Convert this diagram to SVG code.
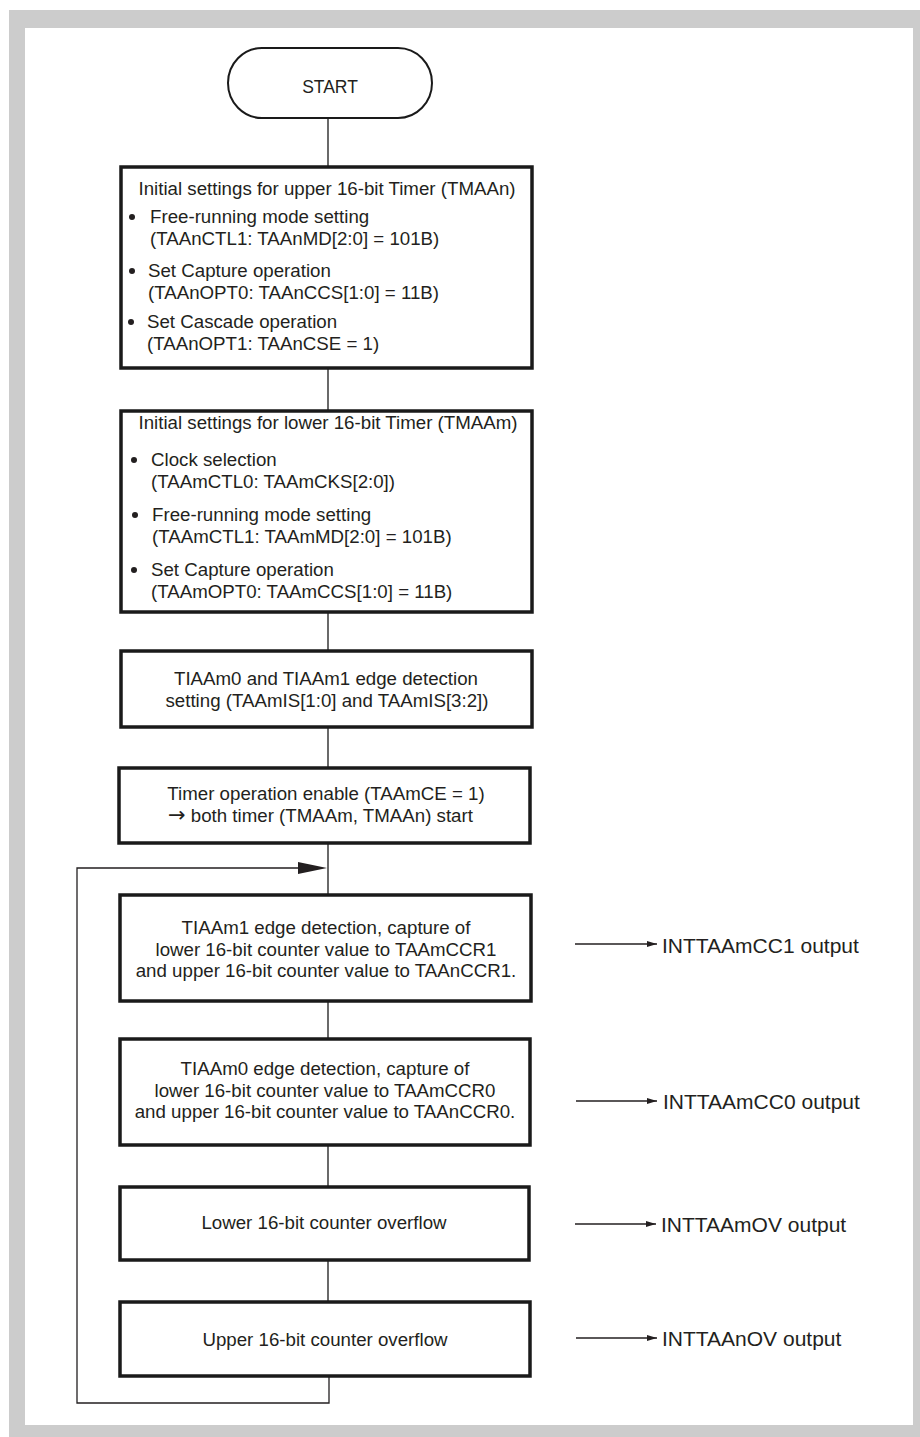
<svg xmlns="http://www.w3.org/2000/svg" width="920" height="1437" viewBox="0 0 920 1437">
<style>
.box{fill:#fff;stroke:#1a1a1a;stroke-width:3.5}
.pill{fill:#fff;stroke:#1a1a1a;stroke-width:2}
.t{font-family:"Liberation Sans",Arial,sans-serif;font-size:18.7px;fill:#231f20}
.c{text-anchor:middle}
.lbl{font-family:"Liberation Sans",Arial,sans-serif;font-size:21px;fill:#231f20}
.conn{stroke:#444;stroke-width:1.6;fill:none}
.loop{stroke:#231f20;stroke-width:1.3;fill:none}
.out{stroke:#231f20;stroke-width:1.3;fill:none}
.bul{fill:#231f20}
</style>
<defs>
<marker id="sm" markerWidth="10" markerHeight="6" refX="10" refY="3" orient="auto" markerUnits="userSpaceOnUse">
<path d="M0,0 L10,3 L0,6 z" fill="#231f20"/>
</marker>
</defs>
<rect x="9" y="10" width="911" height="1427" fill="#cccccc"/>
<rect x="25" y="28" width="888" height="1397" fill="#ffffff"/>

<g id="connectors">
<line class="conn" x1="328" y1="118" x2="328" y2="167"/>
<line class="conn" x1="328" y1="368" x2="328" y2="411"/>
<line class="conn" x1="328" y1="612" x2="328" y2="651"/>
<line class="conn" x1="328" y1="727" x2="328" y2="768"/>
<line class="conn" x1="328" y1="843" x2="328" y2="895"/>
<line class="conn" x1="328" y1="1001" x2="328" y2="1039"/>
<line class="conn" x1="328" y1="1145" x2="328" y2="1187"/>
<line class="conn" x1="328" y1="1260" x2="328" y2="1302"/>
<polyline class="loop" points="329,1376 329,1403 77,1403 77,868 300,868"/>
<path d="M298,862 L327,868 L298,874 z" fill="#231f20"/>
<line class="out" x1="575" y1="944" x2="657" y2="944" marker-end="url(#sm)"/>
<line class="out" x1="576" y1="1101" x2="657" y2="1101" marker-end="url(#sm)"/>
<line class="out" x1="575" y1="1224" x2="656" y2="1224" marker-end="url(#sm)"/>
<line class="out" x1="576" y1="1338" x2="657" y2="1338" marker-end="url(#sm)"/>
</g>

<g id="start">
<rect class="pill" x="228" y="48" width="204" height="70" rx="34" ry="35"/>
<text class="t c" x="330" y="93" style="font-size:17.5px">START</text>
</g>

<g id="upper-init">
<rect class="box" x="121" y="167" width="411" height="201"/>
<text class="t c" x="327" y="195">Initial settings for upper 16-bit Timer (TMAAn)</text>
<circle class="bul" cx="132" cy="217" r="3"/>
<text class="t" x="150" y="223">Free-running mode setting</text>
<text class="t" x="150" y="245">(TAAnCTL1: TAAnMD[2:0] = 101B)</text>
<circle class="bul" cx="132" cy="271" r="3"/>
<text class="t" x="148" y="277">Set Capture operation</text>
<text class="t" x="148" y="299">(TAAnOPT0: TAAnCCS[1:0] = 11B)</text>
<circle class="bul" cx="131" cy="322" r="3"/>
<text class="t" x="147" y="328">Set Cascade operation</text>
<text class="t" x="147" y="350">(TAAnOPT1: TAAnCSE = 1)</text>
</g>

<g id="lower-init">
<rect class="box" x="121" y="411" width="411" height="201"/>
<text class="t c" x="328" y="429">Initial settings for lower 16-bit Timer (TMAAm)</text>
<circle class="bul" cx="134" cy="460" r="3"/>
<text class="t" x="151" y="466">Clock selection</text>
<text class="t" x="151" y="488">(TAAmCTL0: TAAmCKS[2:0])</text>
<circle class="bul" cx="135" cy="515" r="3"/>
<text class="t" x="152" y="521">Free-running mode setting</text>
<text class="t" x="152" y="543">(TAAmCTL1: TAAmMD[2:0] = 101B)</text>
<circle class="bul" cx="134" cy="570" r="3"/>
<text class="t" x="151" y="576">Set Capture operation</text>
<text class="t" x="151" y="598">(TAAmOPT0: TAAmCCS[1:0] = 11B)</text>
</g>

<g id="edge-setting">
<rect class="box" x="121" y="651" width="411" height="76"/>
<text class="t c" x="326" y="685">TIAAm0 and TIAAm1 edge detection</text>
<text class="t c" x="327" y="707">setting (TAAmIS[1:0] and TAAmIS[3:2])</text>
</g>

<g id="timer-enable">
<rect class="box" x="119" y="768" width="411" height="75"/>
<text class="t c" x="326" y="800">Timer operation enable (TAAmCE = 1)</text>
<text class="t" x="168" y="822"><tspan style="font-family:'DejaVu Sans',sans-serif;font-size:21px">→</tspan> both timer (TMAAm, TMAAn) start</text>
</g>

<g id="capture1">
<rect class="box" x="120" y="895" width="411" height="106"/>
<text class="t c" x="326" y="934">TIAAm1 edge detection, capture of</text>
<text class="t c" x="326" y="956">lower 16-bit counter value to TAAmCCR1</text>
<text class="t c" x="326" y="977">and upper 16-bit counter value to TAAnCCR1.</text>
</g>

<g id="capture0">
<rect class="box" x="120" y="1039" width="410" height="106"/>
<text class="t c" x="325" y="1075">TIAAm0 edge detection, capture of</text>
<text class="t c" x="325" y="1097">lower 16-bit counter value to TAAmCCR0</text>
<text class="t c" x="325" y="1118">and upper 16-bit counter value to TAAnCCR0.</text>
</g>

<g id="lower-ovf">
<rect class="box" x="120" y="1187" width="409" height="73"/>
<text class="t c" x="324" y="1229">Lower 16-bit counter overflow</text>
</g>

<g id="upper-ovf">
<rect class="box" x="120" y="1302" width="410" height="74"/>
<text class="t c" x="325" y="1346">Upper 16-bit counter overflow</text>
</g>

<g id="outputs">
<text class="lbl" x="662" y="953">INTTAAmCC1 output</text>
<text class="lbl" x="663" y="1109">INTTAAmCC0 output</text>
<text class="lbl" x="661" y="1232">INTTAAmOV output</text>
<text class="lbl" x="662" y="1346">INTTAAnOV output</text>
</g>
</svg>
